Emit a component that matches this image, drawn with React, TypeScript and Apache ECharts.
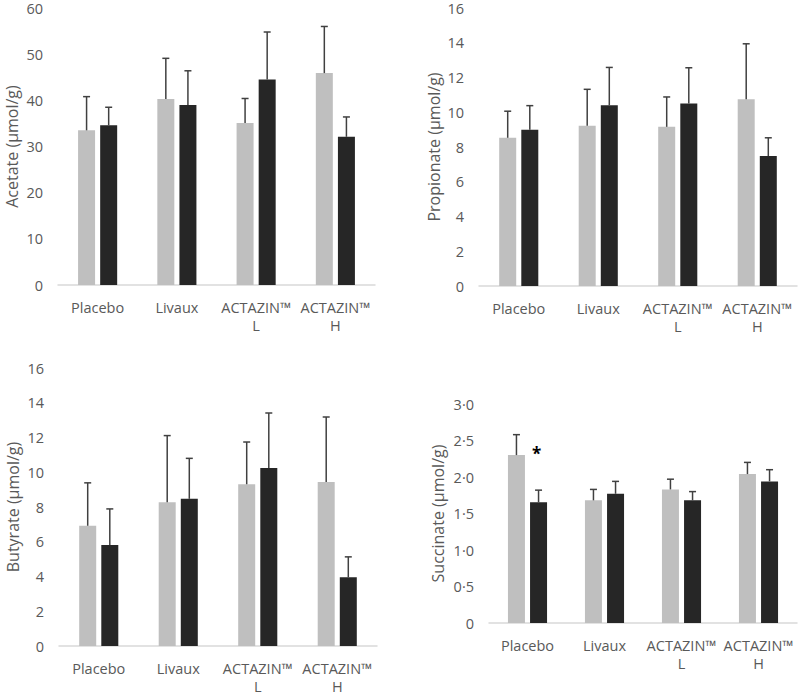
import React, { useEffect, useRef } from "react";
import * as echarts from "echarts";

const categories = ["Placebo", "Livaux", "ACTAZIN™ L", "ACTAZIN™ H"];

const acetateBefore = [33.5, 40.3, 35.1, 45.9];
const acetateBeforeSem = [7.3, 8.8, 5.3, 10.1];
const acetateAfter = [34.6, 39.0, 44.5, 32.1];
const acetateAfterSem = [3.9, 7.4, 10.3, 4.3];

const propionateBefore = [8.53, 9.22, 9.16, 10.75];
const propionateBeforeSem = [1.53, 2.1, 1.72, 3.19];
const propionateAfter = [9.0, 10.4, 10.5, 7.48];
const propionateAfterSem = [1.38, 2.18, 2.06, 1.05];

const butyrateBefore = [6.92, 8.28, 9.31, 9.44];
const butyrateBeforeSem = [2.47, 3.83, 2.43, 3.74];
const butyrateAfter = [5.82, 8.47, 10.25, 3.95];
const butyrateAfterSem = [2.07, 2.33, 3.16, 1.18];

const succinateBefore = [2.3, 1.68, 1.83, 2.04];
const succinateBeforeSem = [0.28, 0.15, 0.14, 0.16];
const succinateAfter = [1.655, 1.77, 1.68, 1.94];
const succinateAfterSem = [0.165, 0.17, 0.12, 0.16];

// significance marks: [category index, series index (0 before / 1 after), value]
const succinateSig = [[0, 1, 2.32]];

const panelTitles = [
  "Acetate (µmol/g)",
  "Propionate (µmol/g)",
  "Butyrate (µmol/g)",
  "Succinate (µmol/g)",
];
const panelMax = [60, 16, 16, 3];
const panelInterval = [10, 2, 2, 0.5];

const FONT = "'Open Sans'";
const TEXT = "#595959";
const LIGHT = "#bfbfbf";
const DARK = "#262626";
const BAR_W = 17;
const GAP_RATIO = 0.3;
const OFFSET = BAR_W / 2 + (BAR_W * GAP_RATIO) / 2;

const grids = [
  { left: 58, top: 8, width: 317, height: 277 },
  { left: 479, top: 8, width: 318, height: 278 },
  { left: 59, top: 368, width: 318, height: 278 },
  { left: 489, top: 404, width: 308, height: 219 },
];
const nameGaps = [38, 37, 38, 43];

function errorSeries(idx: number, means: number[], sems: number[], side: number) {
  return {
    type: "custom",
    xAxisIndex: idx,
    yAxisIndex: idx,
    z: 5,
    silent: true,
    data: means.map((m, i) => [i, m, m + sems[i]]),
    encode: { x: 0, y: [1, 2] },
    renderItem: (params: any, api: any) => {
      const cat = api.value(0);
      const base = api.coord([cat, api.value(1)]);
      const hi = api.coord([cat, api.value(2)]);
      const x = base[0] + side * OFFSET;
      const style = { stroke: "#404040", lineWidth: 1.5 };
      return {
        type: "group",
        children: [
          { type: "line", shape: { x1: x, y1: base[1], x2: x, y2: hi[1] }, style },
          { type: "line", shape: { x1: x - 3.5, y1: hi[1], x2: x + 3.5, y2: hi[1] }, style },
        ],
      };
    },
  };
}

function sigSeries(idx: number, marks: number[][]) {
  return {
    type: "custom",
    xAxisIndex: idx,
    yAxisIndex: idx,
    z: 6,
    silent: true,
    data: marks,
    renderItem: (params: any, api: any) => {
      const p = api.coord([api.value(0), api.value(2)]);
      const side = api.value(1) === 0 ? -1 : 1;
      return {
        type: "text",
        x: p[0] + side * OFFSET - 2,
        y: p[1],
        style: {
          text: "*",
          fill: "#000",
          font: `bold 17px ${FONT}`,
          align: "center",
          verticalAlign: "middle",
        },
      };
    },
  };
}

export default function App() {
  const ref = useRef<HTMLDivElement>(null);
  useEffect(() => {
    if (!ref.current) return;
    const chart = echarts.init(ref.current, undefined, { renderer: "svg" });
    const panels = [
      [acetateBefore, acetateBeforeSem, acetateAfter, acetateAfterSem],
      [propionateBefore, propionateBeforeSem, propionateAfter, propionateAfterSem],
      [butyrateBefore, butyrateBeforeSem, butyrateAfter, butyrateAfterSem],
      [succinateBefore, succinateBeforeSem, succinateAfter, succinateAfterSem],
    ];
    const series: any[] = [];
    panels.forEach((p, idx) => {
      series.push({
        type: "bar",
        name: "Before",
        xAxisIndex: idx,
        yAxisIndex: idx,
        data: p[0],
        barWidth: BAR_W,
        barGap: `${GAP_RATIO * 100}%`,
        itemStyle: { color: LIGHT },
        silent: true,
      });
      series.push({
        type: "bar",
        name: "After",
        xAxisIndex: idx,
        yAxisIndex: idx,
        data: p[2],
        barWidth: BAR_W,
        barGap: `${GAP_RATIO * 100}%`,
        itemStyle: { color: DARK },
        silent: true,
      });
      series.push(errorSeries(idx, p[0], p[1], -1));
      series.push(errorSeries(idx, p[2], p[3], 1));
    });
    series.push(sigSeries(3, succinateSig));

    chart.setOption({
      animation: false,
      grid: grids.map((g) => ({ ...g, containLabel: false, outerBoundsMode: "none" })),
      xAxis: grids.map((_, i) => ({
        type: "category",
        gridIndex: i,
        data: categories,
        axisLine: { lineStyle: { color: "#d9d9d9", width: 1.5 } },
        axisTick: { show: false },
        axisLabel: {
          color: TEXT,
          fontFamily: FONT,
          fontSize: 14.5,
          margin: 13,
          lineHeight: 18,
          interval: 0,
          formatter: (v: string) => v.replace("™ ", "™\n"),
        },
      })),
      yAxis: grids.map((_, i) => ({
        type: "value",
        gridIndex: i,
        min: 0,
        max: panelMax[i],
        interval: panelInterval[i],
        name: panelTitles[i],
        nameLocation: "middle",
        nameGap: nameGaps[i],
        nameTextStyle: { color: TEXT, fontFamily: FONT, fontSize: 16 },
        axisLine: { show: false },
        axisTick: { show: false },
        splitLine: { show: false },
        axisLabel: {
          color: TEXT,
          fontFamily: FONT,
          fontSize: 14.5,
          margin: 15,
          formatter: (v: number) =>
            i === 3 ? (v === 0 ? "0" : v.toFixed(1).replace(".", "·")) : String(v),
        },
      })),
      series,
    });
    return () => chart.dispose();
  }, []);
  return (
    <div
      ref={ref}
      style={{ position: "fixed", left: 0, top: 0, width: 798, height: 695, background: "#fff" }}
    />
  );
}
